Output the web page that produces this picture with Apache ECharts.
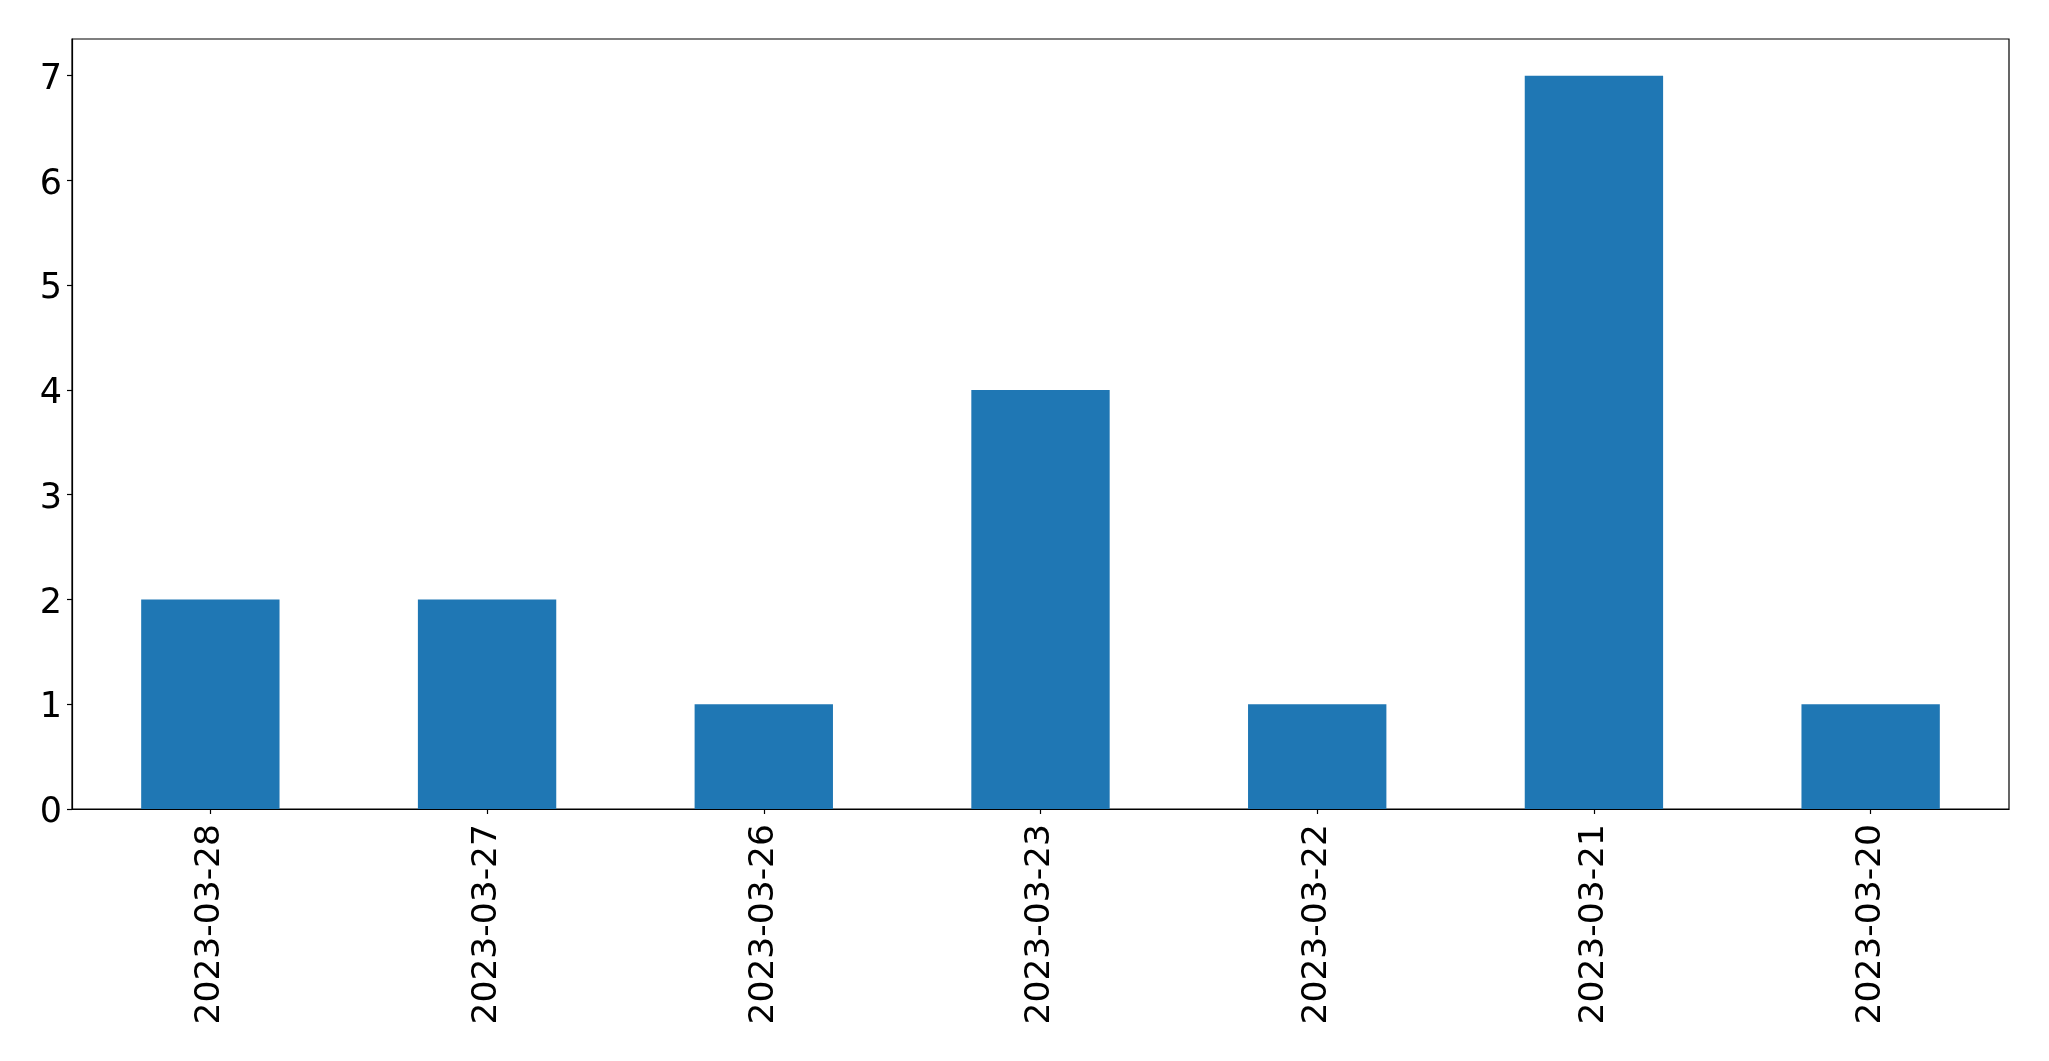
<!DOCTYPE html>
<html><head><meta charset="utf-8">
<script src="https://cdn.jsdelivr.net/npm/echarts@6/dist/echarts.min.js"></script>
<style>html,body{margin:0;padding:0;background:#fff;}#c{width:2049px;height:1061px;}</style>
</head><body><div id="c"></div>
<script>
const categories = ['2023-03-28','2023-03-27','2023-03-26','2023-03-23','2023-03-22','2023-03-21','2023-03-20'];
const counts = [2, 2, 1, 4, 1, 7, 1];
const yTicks = [0, 1, 2, 3, 4, 5, 6, 7];

const chart = echarts.init(document.getElementById('c'), null, {renderer: 'canvas'});
const font = 'DejaVu Sans';
chart.setOption({
  animation: false,
  backgroundColor: '#fff',
  grid: {left: 72, right: 40, top: 39, bottom: 252, show: true, borderColor: '#000', borderWidth: 1.2, containLabel: false},
  xAxis: {
    type: 'category', data: categories, boundaryGap: true,
    axisLine: {show: true, lineStyle: {color: '#000', width: 1.2}},
    axisTick: {show: true, alignWithLabel: true, length: 5, lineStyle: {color: '#000', width: 1.2}},
    axisLabel: {rotate: 90, margin: 15, fontFamily: font, fontSize: 34.5, color: '#000', interval: 0},
    splitLine: {show: false}
  },
  yAxis: {
    type: 'value', min: 0, max: 7.35,
    axisLine: {show: true, lineStyle: {color: '#000', width: 1.2}},
    axisTick: {show: true, length: 5, customValues: yTicks, lineStyle: {color: '#000', width: 1.2}},
    axisLabel: {
      margin: 10, customValues: yTicks,
      formatter: function (v) { return '{a|' + v + '}'; },
      rich: {a: {fontFamily: font, fontSize: 35, color: '#000', padding: [8, 0, 0, 0]}}
    },
    splitLine: {show: false}
  },
  series: [{
    type: 'bar', data: counts, barWidth: '50%',
    itemStyle: {color: '#1f77b4'}
  }]
});
</script></body></html>
